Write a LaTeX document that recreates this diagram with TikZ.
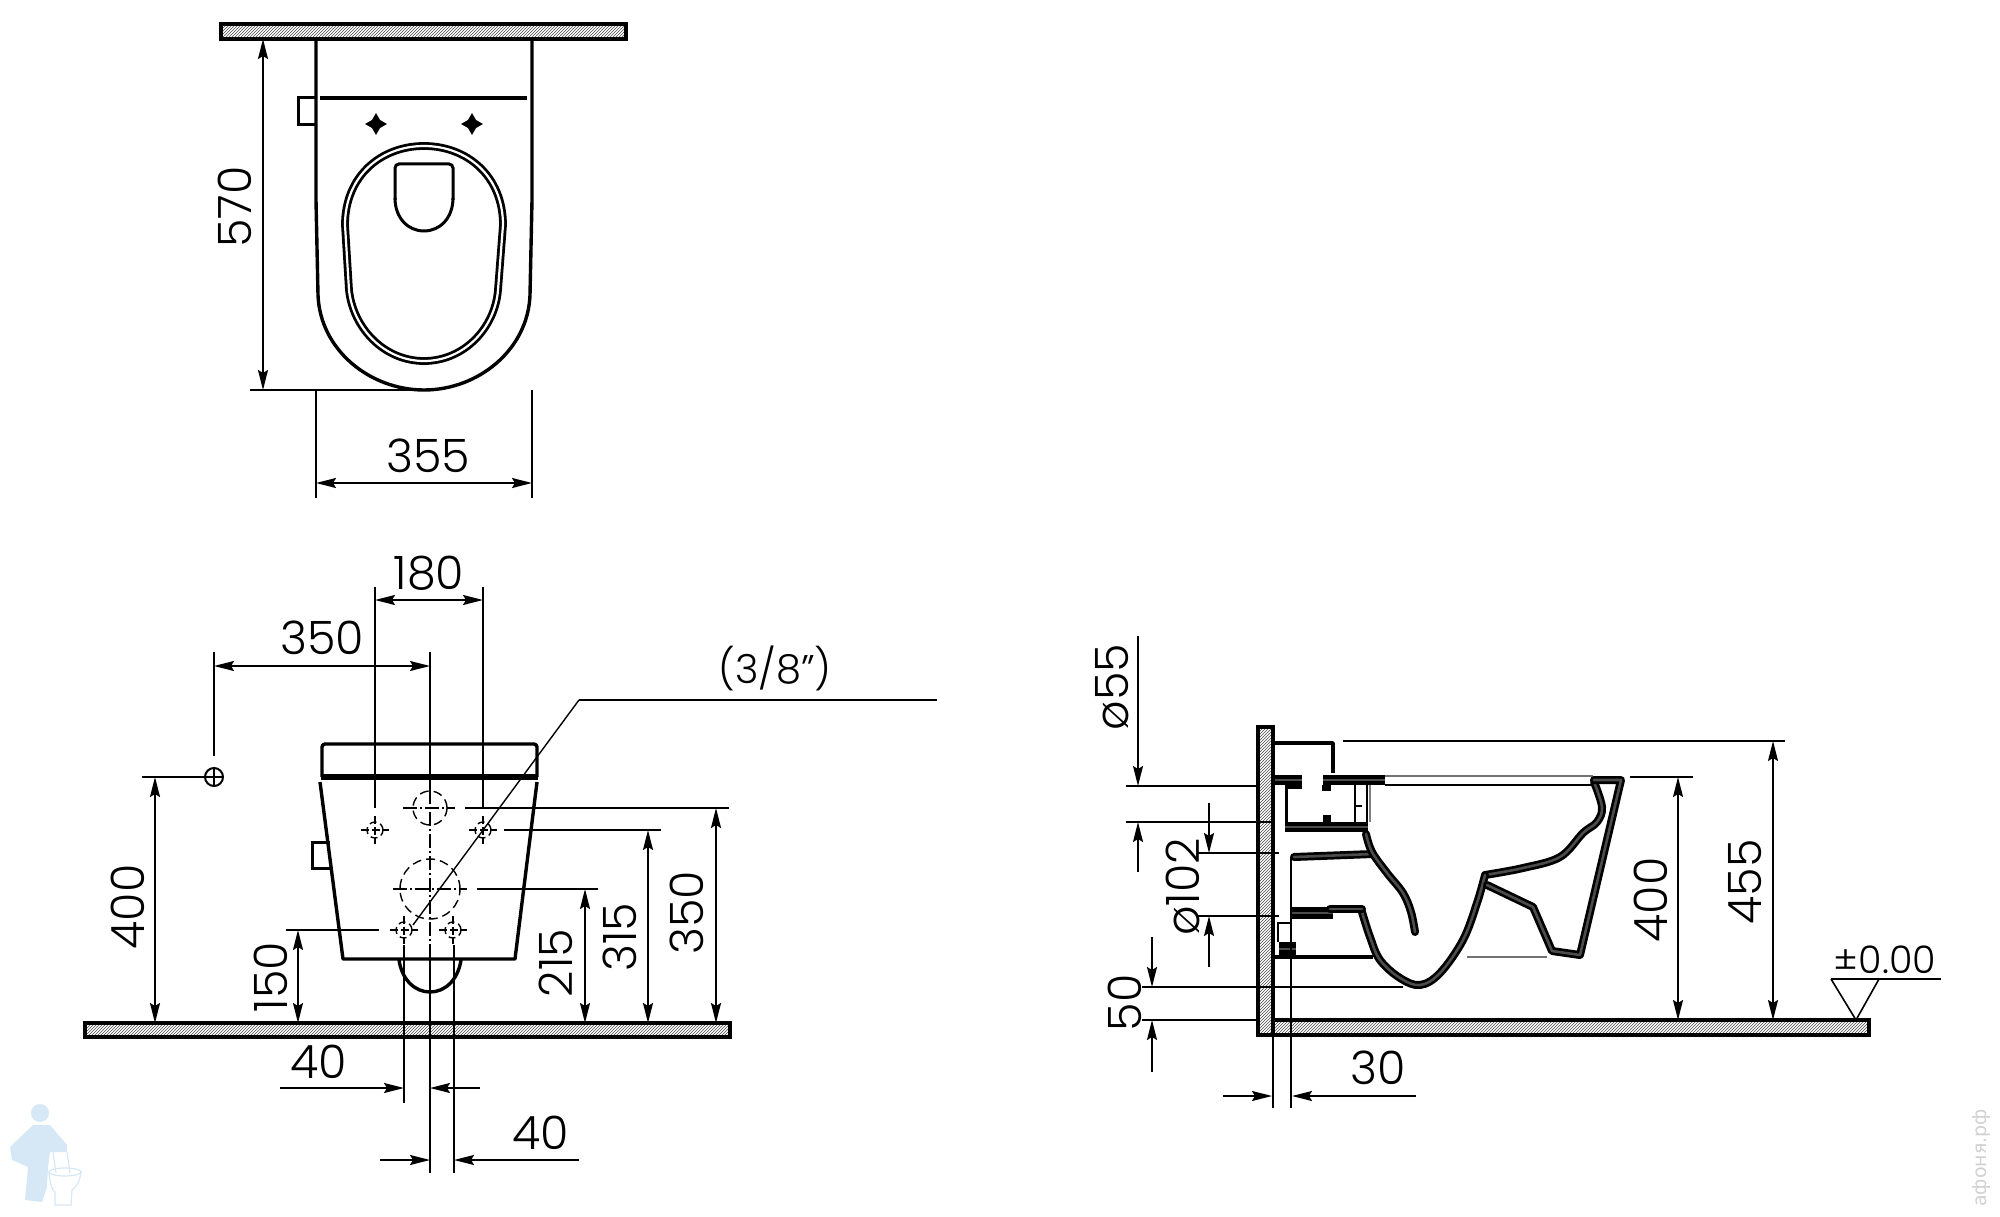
\documentclass[tikz,border=0pt]{standalone}
\usepackage{fontspec}
\setmainfont{Poppins Light}
\newfontfamily\wmfont{DejaVu Sans}
\usetikzlibrary{arrows.meta,patterns}
\definecolor{wmblue}{HTML}{D6E8F5}
\tikzset{
	extline/.style={line width=1.8pt, black},
	dimline/.style={line width=1.8pt, black, {Stealth[length=20pt,width=10pt,inset=3pt]}-{Stealth[length=20pt,width=10pt,inset=3pt]}},
	dimhead/.style={line width=1.8pt, black, -{Stealth[length=20pt,width=10pt,inset=3pt]}},
	partline/.style={line width=3.4pt, black, line join=round},
	seatline/.style={line width=2.8pt, double, double distance=2.2pt, line join=round},
	sectline/.style={line width=8pt, black, line join=round, line cap=round, postaction={draw=black!70, line width=2.6pt}},
	hatchbar/.style={draw=black, line width=3.4pt, pattern=north east lines, pattern color=black!70},
	centerline/.style={line width=1.4pt, black, dash pattern=on 14pt off 3pt on 2pt off 3pt},
	holeline/.style={line width=1.4pt, black, dash pattern=on 9pt off 5pt},
	dimtext/.style={inner sep=0pt, font=\fontsize{46}{46}\selectfont},
	dimtextup/.style={dimtext, rotate=90},
	reftext/.style={inner sep=0pt, font=\fontsize{40}{40}\selectfont},
	wmline/.style={line width=1.2pt, wmblue}
}
\begin{document}
\begin{tikzpicture}[x=1pt,y=-1pt]
	\useasboundingbox (0,0) rectangle (2000,1217);

	% Draufsicht
	\draw[hatchbar] (221,24) rectangle (626,39);
	\draw[partline] (316,39) -- (316,200) -- (318,295) .. controls (320,350) and (370,390) .. (424,390)
		.. controls (478,390) and (528,350) .. (530,295) -- (532,200) -- (532,39);
	\draw[partline] (320,98) -- (527,98);
	\draw[line width=3pt] (316,98) -- (298,98) -- (298,125) -- (316,125);
	\foreach \x in {376,472}
		\fill (\x-11,124) -- (\x-4,120) -- (\x,113) -- (\x+4,120) -- (\x+11,124) -- (\x+4,128) -- (\x,135) -- (\x-4,128) -- cycle;
	\draw[seatline] (345,225) .. controls (345,176) and (381,146) .. (424,146) .. controls (467,146) and (503,176) .. (503,225)
		-- (498,290) .. controls (495,328) and (464,361) .. (424,361) .. controls (384,361) and (353,328) .. (349,290) -- cycle;
	\draw[line width=3pt, rounded corners=4pt] (395,200) -- (395,164) -- (453,164) -- (453,200);
	\draw[line width=3pt] (453,198) .. controls (453,218) and (440,231) .. (424,231) .. controls (408,231) and (395,218) .. (395,198);
	% Masse Draufsicht
	\draw[extline] (316,390) -- (316,498);
	\draw[extline] (532,390) -- (532,498);
	\draw[extline] (250,390) -- (424,390);
	\draw[dimline] (263,39) -- (263,390);
	\draw[dimline] (316,483) -- (532,483);
	\node[dimtextup] (depth) at (235,207) {570};
	\node[dimtext] (width) at (428,456) {355};

	% Vorderansicht
	\draw[hatchbar] (85,1023) rectangle (730,1037);
	\draw[partline, rounded corners=3pt] (322,777) -- (322,744) -- (537,744) -- (537,777);
	\draw[line width=6pt] (321,777) -- (538,777);
	\draw[partline] (320,782) -- (343,959) -- (515,959) -- (537,782);
	\draw[line width=3pt] (330,842) -- (312,842) -- (312,868) -- (333,868);
	\draw[partline] (399,960) .. controls (402,980) and (415,992) .. (430,992) .. controls (445,992) and (458,980) .. (461,960);
	% Bohrungen
	\draw[holeline] (430,808) circle (17pt);
	\draw[holeline] (430,889) circle (30pt);
	\foreach \x/\y in {375/830,483/830,404/930,453/930} {
		\draw[holeline, dash pattern=on 7pt off 4pt] (\x,\y) circle (8pt);
		\draw[line width=1.4pt, dash pattern=on 8pt off 3pt] (\x-14,\y) -- (\x+14,\y);
		\draw[line width=1.4pt, dash pattern=on 8pt off 3pt] (\x,\y-14) -- (\x,\y+14);
	}
	\draw[centerline] (403,808) -- (455,808);
	\draw[centerline] (393,889) -- (467,889);
	\draw[centerline] (430,790) -- (430,945);
	% Hilfslinien Vorderansicht
	\draw[extline] (375,587) -- (375,808);
	\draw[extline] (483,587) -- (483,808);
	\draw[extline] (430,652) -- (430,790);
	\draw[extline] (214,652) -- (214,756);
	\draw[extline] (142,777) -- (205,777);
	\draw[line width=2pt] (214,777) circle (9pt);
	\draw[line width=1.2pt] (205,777) -- (223,777);
	\draw[line width=1.2pt] (214,768) -- (214,786);
	\draw[extline] (465,808) -- (729,808);
	\draw[extline] (504,830) -- (661,830);
	\draw[extline] (477,889) -- (598,889);
	\draw[extline] (286,930) -- (379,930);
	\draw[extline] (404,945) -- (404,1103);
	\draw[extline] (430,945) -- (430,1173);
	\draw[extline] (454,945) -- (454,1173);
	% Masse Vorderansicht
	\draw[dimline] (375,600) -- (483,600);
	\draw[dimline] (214,666) -- (430,666);
	\draw[dimline] (155,777) -- (155,1023);
	\draw[dimline] (298,930) -- (298,1023);
	\draw[dimline] (585,889) -- (585,1023);
	\draw[dimline] (648,830) -- (648,1023);
	\draw[dimline] (716,808) -- (716,1023);
	\draw[dimhead] (280,1088) -- (404,1088);
	\draw[dimhead] (480,1088) -- (430,1088);
	\draw[dimhead] (380,1160) -- (430,1160);
	\draw[dimhead] (579,1160) -- (454,1160);
	\node[dimtext] (spacing) at (429,573) {180};
	\node[dimtext] (offset) at (322,638) {350};
	\node[dimtextup] (heightb) at (128,907) {400};
	\node[dimtextup] (heightc) at (271,977) {150};
	\node[dimtextup] (heightd) at (556,963) {215};
	\node[dimtextup] (heighte) at (620,937) {315};
	\node[dimtextup] (heightf) at (687,913) {350};
	\node[dimtext] (boltl) at (319,1062) {40};
	\node[dimtext] (boltr) at (541,1133) {40};
	% Hinweislinie
	\draw[line width=1.4pt] (413,925) -- (579,700);
	\draw[extline] (579,700) -- (937,700);
	\node[reftext] (thread) at (775,668) {(3/8”)};

	% Schnitt
	\draw[hatchbar] (1273,1020) rectangle (1869,1035);
	\draw[hatchbar] (1258,727) rectangle (1273,1035);
	\draw[partline] (1273,743) -- (1333,743) -- (1333,773);
	% Spuelkasten Anschluss
	\draw[sectline, line width=10pt, line cap=butt] (1275,780) -- (1302,780);
	\draw[sectline, line width=10pt, line cap=butt] (1323,780) -- (1385,780);
	\fill (1285,784) rectangle (1302,789);
	\draw[line width=3pt] (1286,788) -- (1286,822);
	\draw[line width=2.2pt] (1355,785) -- (1355,822);
	\draw[line width=2.2pt] (1367,785) -- (1367,822);
	\draw[line width=1.2pt, black!50] (1370,785) -- (1370,822);
	\draw[line width=1.4pt] (1355,806) -- (1362,806);
	\fill (1322,785) rectangle (1331,791);
	\fill (1323,815) rectangle (1331,822);
	\draw[sectline, line width=10pt, line cap=butt] (1285,827) -- (1368,827);
	\draw[line width=1.6pt, black!55] (1385,776) -- (1593,776);
	\draw[line width=2pt] (1385,785) -- (1593,785);
	% Schuessel
	\draw[sectline] (1294,857) -- (1373,854);
	\draw[sectline, line width=12pt, line cap=butt] (1292,913) -- (1333,913);
	\draw[sectline] plot[smooth, tension=0.6] coordinates {(1366,834) (1372,852) (1387,873) (1403,893) (1411,912) (1415,932)};
	\draw[sectline] plot[smooth, tension=0.6] coordinates {(1594,782) (1602,807) (1597,822) (1583,833) (1560,857) (1523,868) (1485,875)};
	\draw[sectline] plot[smooth, tension=0.6] coordinates {(1485,875) (1477,903) (1463,940) (1440,973) (1420,985) (1400,978) (1380,960) (1370,937) (1362,912)};
	\draw[sectline] (1330,909) -- (1362,909);
	\draw[sectline] (1594,780) -- (1621,780) -- (1580,955) -- (1552,951) -- (1533,907) -- (1487,885);
	\draw[line width=2.4pt] (1278,942) -- (1278,923) -- (1291,923);
	\draw[sectline, line width=14pt, line cap=butt] (1279,949) -- (1296,949);
	\draw[partline] (1273,957) -- (1373,957);
	\draw[line width=1.6pt, black!55] (1467,957) -- (1547,957);
	% Hilfslinien Schnitt
	\draw[extline] (1291,857) -- (1291,1108);
	\draw[extline] (1273,1035) -- (1273,1108);
	\draw[extline] (1126,786) -- (1260,786);
	\draw[extline] (1126,822) -- (1275,822);
	\draw[extline] (1197,853) -- (1279,853);
	\draw[extline] (1197,916) -- (1279,916);
	\draw[extline] (1142,987) -- (1403,987);
	\draw[extline] (1142,1020) -- (1258,1020);
	\draw[extline] (1343,741) -- (1785,741);
	\draw[extline] (1630,777) -- (1693,777);
	% Masse Schnitt
	\draw[dimhead] (1138,636) -- (1138,786);
	\draw[dimhead] (1138,872) -- (1138,822);
	\draw[dimhead] (1209,803) -- (1209,853);
	\draw[dimhead] (1209,967) -- (1209,916);
	\draw[dimhead] (1152,937) -- (1152,987);
	\draw[dimhead] (1152,1072) -- (1152,1020);
	\draw[dimhead] (1223,1096) -- (1272,1096);
	\draw[dimhead] (1416,1096) -- (1292,1096);
	\draw[dimline] (1678,777) -- (1678,1020);
	\draw[dimline] (1773,741) -- (1773,1020);
	\node[dimtextup] (tankpipe) at (1112,687) {ø55};
	\node[dimtextup] (outlet) at (1183,887) {ø102};
	\node[dimtextup] (outleth) at (1125,1003) {50};
	\node[dimtext] (walldist) at (1378,1068) {30};
	\node[dimtextup] (rimh) at (1651,900) {400};
	\node[dimtextup] (totalh) at (1745,882) {455};
	% Hoehenmarke
	\draw[extline] (1831,979) -- (1941,979);
	\draw[line width=1.6pt] (1831,979) -- (1856,1020) -- (1879,979);
	\node[reftext, font=\fontsize{38}{38}\selectfont] (level) at (1885,960) {±0.00};

	% Wasserzeichen
	\fill[wmblue] (40,1113) circle (9pt);
	\fill[wmblue] (33,1125) -- (50,1125) -- (67,1145) -- (67,1152) -- (50,1152) -- (48,1167) -- (47,1187) -- (42,1202) -- (25,1200)
		-- (28,1167) -- (12,1160) -- (10,1147) -- cycle;
	\draw[wmline] (53,1152) -- (56,1173);
	\draw[wmline] (67,1152) -- (70,1173);
	\draw[wmline] (65,1172) ellipse (16pt and 4pt);
	\draw[wmline] (49,1172) .. controls (50,1185) and (52,1190) .. (55,1192) -- (55,1205) -- (71,1205) -- (72,1190) .. controls (78,1185) and (80,1180) .. (81,1172);
	\node[rotate=90, inner sep=0pt, text=black!18, font=\wmfont\fontsize{19}{19}\selectfont] (site) at (1982,1158) {афоня.рф};
\end{tikzpicture}
\end{document}
